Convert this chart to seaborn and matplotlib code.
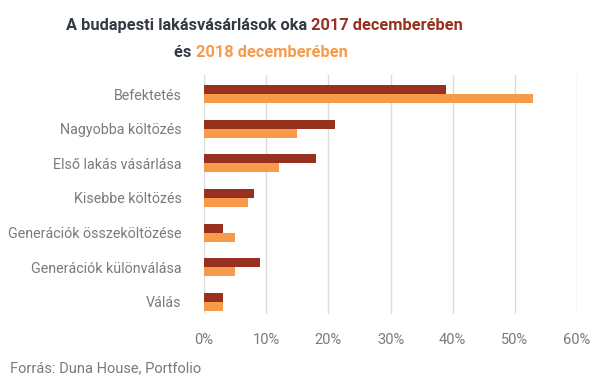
import pandas as pd
import matplotlib
matplotlib.use("Agg")
import matplotlib.pyplot as plt
import seaborn as sns

categories = ["Befektetés", "Nagyobba költözés", "Első lakás vásárlása", "Kisebbe költözés",
              "Generációk összeköltözése", "Generációk különválása", "Válás"]
dec_2017 = [39, 21, 18, 8, 3, 9, 3]
dec_2018 = [53, 15, 12, 7, 5, 5, 3]
series = ["2017 december", "2018 december"]
xticks = [0, 10, 20, 30, 40, 50, 60]

C17 = "#983020"
C18 = "#f79a4a"
TXT = "#333a44"
GRAY = "#7a7a7a"

df = pd.DataFrame({
    "ok": categories * 2,
    "arany": dec_2017 + dec_2018,
    "ev": [series[0]] * len(categories) + [series[1]] * len(categories),
})

sns.set_theme(style="white")
plt.rcParams["font.family"] = ["Roboto", "DejaVu Sans"]

fig = plt.figure(figsize=(6.05, 3.79), dpi=100)
ax = fig.add_axes([204 / 605, 1 - 314 / 379, 373 / 605, 239 / 379])
sns.barplot(data=df, y="ok", x="arany", hue="ev", orient="h", ax=ax,
            palette=[C17, C18], width=0.52, gap=0, saturation=1, legend=False,
            linewidth=0, zorder=3)

ax.set_xlim(0, 60)
ax.set_ylim(6.35, -0.55)
ax.set_xticks(xticks)
ax.set_xticklabels([f"{t}%" for t in xticks], color=GRAY, fontsize=10.5)
ax.tick_params(axis="y", colors=GRAY, labelsize=10.25, length=0, pad=16)
ax.tick_params(axis="x", length=0, pad=14)
ax.set_xlabel("")
ax.set_ylabel("")
ax.grid(axis="x", color="#dcdcdc", linewidth=1, zorder=0)
for s in ax.spines.values():
    s.set_visible(False)


def colored_line(parts, y, cx, size):
    r = fig.canvas.get_renderer()
    texts = []
    for s, c in parts:
        t = fig.text(0, y, s, color=c, fontsize=size, fontweight="bold", va="baseline")
        texts.append(t)
    widths = [t.get_window_extent(r).width for t in texts]
    x = cx * fig.bbox.width - sum(widths) / 2
    for t, w in zip(texts, widths):
        t.set_x(x / fig.bbox.width)
        x += w


colored_line([("A budapesti lakásvásárlások oka ", TXT), ("2017 decemberében", C17)],
             1 - 30 / 379, 264 / 605, 11.8)
colored_line([("és ", TXT), ("2018 decemberében", C18)], 1 - 57 / 379, 261 / 605, 11.8)

fig.text(10 / 605, 1 - 372 / 379, "Forrás: Duna House, Portfolio", color=GRAY, fontsize=10.5)

fig.savefig("out.png", dpi=100)
